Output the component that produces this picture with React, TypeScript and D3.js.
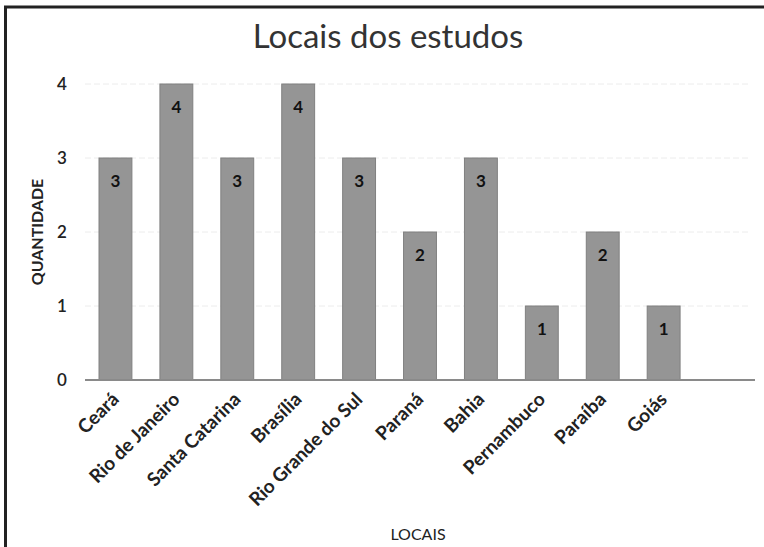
import React from "react";
import * as d3 from "d3";

const categories = ["Ceará", "Rio de Janeiro", "Santa Catarina", "Brasília", "Rio Grande do Sul", "Paraná", "Bahia", "Pernambuco", "Paraíba", "Goiás"];
const values = [3, 4, 3, 4, 3, 2, 3, 1, 2, 1];
const yTicks = [0, 1, 2, 3, 4];
const title = "Locais dos estudos";
const xTitle = "LOCAIS";
const yTitle = "QUANTIDADE";

const W = 764, H = 547;
const left = 85, right = 755, top = 84, bottom = 380;
const slot = (right - left) / (categories.length + 1);
const font = "Lato, 'Open Sans', sans-serif";

export default function App() {
  const x = d3.scaleBand<string>().domain(categories).range([left, left + slot * categories.length]).paddingInner(0.46).paddingOuter(0.23);
  const y = d3.scaleLinear().domain([0, 4]).range([bottom, top]);
  return (
    <svg width={W} height={H} style={{ position: "absolute", left: 0, top: 0, background: "#fff" }} fontFamily={font}>
      <rect x={0} y={0} width={W} height={H} fill="#fff" />
      <line x1={5.5} x2={5.5} y1={6} y2={H} stroke="#222" strokeWidth={3} />
      <line x1={4} x2={W} y1={7} y2={7} stroke="#222" strokeWidth={3} />
      <text x={388} y={48} textAnchor="middle" fontSize={33} fill="#333">{title}</text>
      {yTicks.slice(1).map(t => (
        <line key={t} x1={left} x2={right - 5} y1={y(t)} y2={y(t)} stroke="#ececec" strokeWidth={1} strokeDasharray="6 3" />
      ))}
      {yTicks.map(t => (
        <text key={t} x={62} y={y(t)} dy="0.35em" textAnchor="middle" fontSize={17} fontWeight={600} fill="#222">{t}</text>
      ))}
      {categories.map((c, i) => (
        <g key={c}>
          <rect x={x(c)!} y={y(values[i])} width={x.bandwidth()} height={bottom - y(values[i])} fill="#959595" stroke="#808080" strokeWidth={1} />
          <text x={x(c)! + x.bandwidth() / 2} y={y(values[i]) + 23} dy="0.35em" textAnchor="middle" fontSize={17} fontWeight={700} fill="#111">{values[i]}</text>
          <text transform={`translate(${x(c)! + x.bandwidth() / 2 - 5},${bottom + 11}) rotate(-45)`} textAnchor="end" dy="0.71em" fontSize={19} fontWeight={700} fill="#222">{c}</text>
        </g>
      ))}
      <line x1={left} x2={right} y1={bottom} y2={bottom} stroke="#8a8a8a" strokeWidth={2} />
      <text transform={`translate(37,${(top + bottom) / 2}) rotate(-90)`} textAnchor="middle" dy="0.35em" fontSize={16} fontWeight={700} fill="#222">{yTitle}</text>
      <text x={418} y={534} textAnchor="middle" dy="0.35em" fontSize={16} fill="#222">{xTitle}</text>
    </svg>
  );
}
